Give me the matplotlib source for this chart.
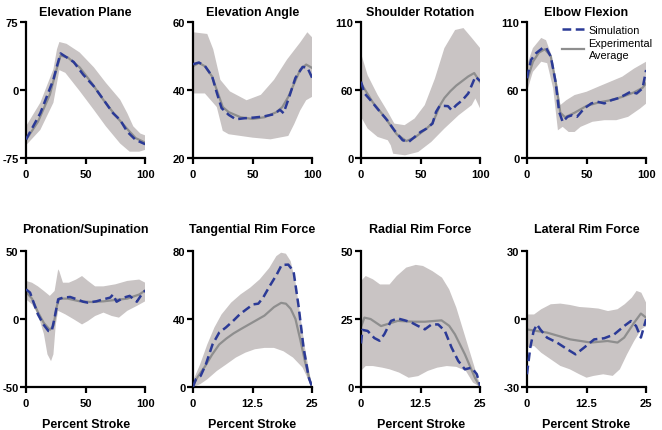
import numpy as np
import matplotlib
matplotlib.use('Agg')
import matplotlib.pyplot as plt

plt.rcParams['font.family'] = ['Liberation Sans', 'DejaVu Sans']
plt.rcParams['font.weight'] = 'bold'

# ---- Elevation Plane ----
ep_sx = [0, 6, 12, 17, 23, 26, 29, 33, 40, 48, 57, 65, 73, 79, 85, 92, 100]
ep_sy = [-54.5, -40, -25.5, -8.7, 11.7, 26.6, 40.4, 37, 31, 17, 4, -10.6, -25.5, -33, -46, -55, -59.7]
ep_mx = [0, 10, 20, 25, 29, 35, 45, 55, 65, 75, 85, 92, 100]
ep_my = [-55, -35, -5, 20, 38, 36, 25, 8, -11, -28, -43, -53, -58]
ep_ux = [0, 12, 23, 26, 28, 34, 45, 57, 67, 79, 85, 90, 96, 100]
ep_uy = [-40, -14, 23, 45, 53, 51, 41.5, 25, 8, -10.6, -25.5, -40, -48, -50]
ep_lx = [0, 12, 23, 28, 33, 45, 57, 67, 79, 87, 95, 100]
ep_ly = [-61, -44, -14, 22, 19, -1, -22, -40, -59, -68, -68, -66]

# ---- Elevation Angle ----
ea_sx = [0, 5, 10, 16, 20, 24, 30, 36, 43, 51, 59, 68, 73, 76, 80, 86, 92, 96, 100]
ea_sy = [47.6, 48.1, 47.1, 44.1, 39.2, 34.7, 32.7, 31.4, 31.7, 31.9, 32.2, 32.9, 34.2, 33.2, 37.2, 43.6, 46.8, 46.6, 43.6]
ea_mx = [0, 5, 10, 16, 20, 25, 30, 40, 50, 60, 70, 75, 80, 85, 90, 95, 100]
ea_my = [47, 48, 47, 44, 40, 35, 33.5, 32, 31.5, 32, 33.5, 35, 38, 42, 46, 47.5, 46.5]
ea_ux = [0, 12, 17, 23, 31, 45, 57, 68, 79, 90, 96, 100]
ea_uy = [57, 56.5, 52, 43, 39.6, 37, 38.6, 43, 49, 54, 57, 55.5]
ea_lx = [0, 10, 20, 25, 30, 50, 65, 80, 85, 90, 95, 100]
ea_ly = [39, 39, 35, 28, 27, 26, 25.5, 26.5, 30, 34, 37, 38]

# ---- Shoulder Rotation ----
sr_sx = [0, 3, 8, 15, 22, 28, 35, 40, 45, 50, 55, 60, 63, 66, 70, 73, 76, 80, 85, 90, 93, 96, 100]
sr_sy = [67.4, 57, 51, 42, 33.4, 24.5, 15.7, 14.2, 18.6, 23, 26, 30.4, 40.8, 46, 46, 45.8, 42.3, 46.7, 51, 57, 64.4, 71.8, 68]
sr_mx = [0, 10, 20, 30, 38, 45, 55, 60, 63, 66, 70, 75, 80, 85, 90, 95, 100]
sr_my = [66, 49, 36, 21, 15, 18, 26, 31, 38, 46, 53, 59, 64, 68, 72, 75, 67]
sr_ux = [0, 5.6, 14, 22.5, 28, 36.6, 45, 53.5, 62, 70, 79, 86, 93, 100]
sr_uy = [92.5, 73, 55.6, 40.8, 30.4, 29, 34.9, 46.7, 70, 97, 113, 114.7, 106, 97]
sr_lx = [0, 5.6, 14, 22.5, 25, 27, 37, 48, 59, 70, 82, 93, 96, 100]
sr_ly = [36.4, 26, 18.6, 15.7, 11.2, 3.8, 2.4, 5.3, 14.2, 26, 37.8, 46.7, 52.6, 43.7]

# ---- Elbow Flexion ----
ef_sx = [0, 3.4, 7.6, 13, 16, 20, 24, 27, 30, 34, 38, 42, 48, 54, 59, 65, 71, 76, 82, 87, 92, 97, 100]
ef_sy = [70.4, 86.6, 92.5, 97, 97.5, 89.6, 67.4, 40.8, 31.9, 36.4, 37.8, 36.4, 43.7, 48.2, 49.7, 48.2, 51.1, 52.6, 55.6, 58.5, 57, 61.5, 77.7]
ef_mx = [0, 5, 10, 15, 20, 25, 28, 32, 40, 50, 60, 70, 80, 90, 97, 100]
ef_my = [68, 85, 93, 96, 90, 62, 40, 36, 40, 46, 49, 51, 54, 58, 62, 66]
ef_ux = [0, 5, 12, 16, 20, 24, 28, 33, 40, 50, 60, 70, 80, 90, 100]
ef_uy = [82, 97, 106, 104, 92.5, 70, 46.7, 51, 55.6, 58.5, 63, 67.4, 71.8, 79, 85]
ef_lx = [0, 5, 12, 17, 22, 26, 30, 35, 40, 45, 55, 65, 75, 85, 95, 100]
ef_ly = [58.5, 76, 85, 83.7, 61.5, 24.5, 27.5, 23, 23, 27.5, 32, 33.4, 33.4, 36.4, 43.7, 48]

# ---- Pronation/Supination ----
ps_sx = [0, 3.4, 6, 10, 14.6, 18.8, 21.6, 24, 27, 31, 37, 42.6, 48, 52, 59, 65, 70.6, 73, 76, 82, 87, 93, 97, 100]
ps_sy = [21.8, 19.4, 13, 3.4, -4, -8.8, -8.8, 1, 14.5, 15.7, 16.2, 14.5, 12.7, 12, 13, 14.5, 15.7, 18, 12.7, 15.7, 17, 12.7, 18, 21]
ps_mx = [0, 5, 10, 15, 20, 23, 26, 28, 35, 45, 55, 65, 75, 85, 95, 100]
ps_my = [20, 15, 5, -3, -8, -5, 10, 15, 15, 13, 12.5, 13, 14, 15, 18, 21]
ps_ux = [0, 5, 10, 15, 20, 24, 27, 28, 31, 36, 42, 47, 52, 58, 65, 75, 85, 95, 100]
ps_uy = [28, 26.7, 24, 20.6, 17, 20.6, 36.5, 35, 26.7, 26.7, 29, 31.6, 28, 24, 24, 25.5, 28, 29, 26.7]
ps_lx = [0, 5, 10, 15, 18, 21, 23, 25, 27, 33, 40, 47, 52, 58, 65, 72, 78, 85, 93, 100]
ps_ly = [14.5, 10.8, 3.4, -11, -26, -31, -26, -4, 6, 3.4, -0.2, -4, -1.5, 2.2, 4.7, 2.2, 1, 6, 9.6, 13]

# ---- Tangential Rim Force ----
tr_sx = [0, 0.6, 1.6, 2.7, 4.1, 5.5, 6.9, 8.4, 9.8, 11.2, 12.6, 13.7, 14.7, 16.1, 17.6, 18.6, 20, 21.1, 22.2, 23.2, 24.3, 25]
tr_sy = [0, 4.5, 6.5, 13.3, 25, 32, 35, 38.8, 42.7, 45.7, 48.6, 49, 52.5, 59.4, 66.3, 71.8, 72, 68, 46.7, 23, 5.5, 0]
tr_mx = [0, 1, 2.5, 4, 5.5, 7, 8.5, 10, 12.5, 15, 17, 18.5, 19.5, 20.5, 21.5, 22.5, 23.5, 24.5, 25]
tr_my = [1, 6, 12, 19, 25, 28.5, 31.5, 34, 38, 42, 47, 49.5, 49, 46, 40, 28, 15, 4, 0]
tr_ux = [0, 1.5, 3, 4.5, 6, 8, 10, 12, 14, 16, 17.5, 18.5, 19.5, 20.5, 21.5, 22.5, 23.5, 24.5, 25]
tr_uy = [3.5, 13.3, 25, 35, 42.7, 49.6, 54.5, 58.4, 63.3, 70, 77, 79, 78.4, 74, 62, 42.7, 23, 7.5, 0.6]
tr_lx = [0, 1.5, 3, 5, 7, 9, 11, 13, 15, 17, 19, 21, 23, 24.5, 25]
tr_ly = [0, 1.6, 4.5, 9.4, 13.3, 17.3, 20.2, 22.2, 23, 23, 21, 17.3, 11.4, 2.5, 0]

# ---- Radial Rim Force ----
rr_sx = [0, 0.3, 1.4, 2.8, 3.9, 4.9, 6.3, 7.7, 9.2, 10.6, 12, 13.4, 14.8, 16.2, 17.6, 19, 20.4, 21.8, 23.2, 24.3, 25]
rr_sy = [16, 21, 20.6, 18, 17, 19.4, 24.3, 25.2, 24.5, 23.7, 22.4, 21.2, 23, 23, 20.6, 14.5, 9.6, 6.5, 7.1, 4.7, 0.4]
rr_mx = [0, 0.7, 2, 4.2, 7.7, 11, 13.4, 16.9, 18.5, 19.7, 21.8, 23.9, 25]
rr_my = [22, 25.5, 25, 22.4, 24.3, 24, 24, 24.5, 22.5, 19.4, 12, 3.4, 0]
rr_ux = [0, 1, 2.5, 4, 6, 7.5, 9.5, 11.5, 13, 15, 17, 18.5, 20, 21.5, 23, 24.5, 25]
rr_uy = [39, 40.8, 39.6, 37.7, 37.7, 40.8, 43.9, 44.9, 44.5, 42.6, 40.2, 35.9, 29.2, 20.6, 12, 3.4, 1]
rr_lx = [0, 1, 2.5, 4.5, 6, 8, 10, 12, 14, 16, 18, 20, 22, 23.5, 25]
rr_ly = [5.9, 7.7, 7.7, 7.1, 6.5, 5.3, 3.4, 4, 5.9, 7.1, 7.7, 7.4, 5.9, 1.6, 0]

# ---- Lateral Rim Force ----
lr_sx = [0, 0.7, 1.4, 2.1, 2.8, 4.2, 6.3, 8.5, 10.2, 12, 14.1, 16.2, 18.3, 20.4, 21.8, 22.9, 23.9, 25]
lr_sy = [-24.4, -12.6, -5.3, -2.4, -4.6, -8.2, -10.4, -13.4, -15.6, -12.6, -9, -8.5, -6.8, -3.1, -0.9, -3.1, -8.2, -0.1]
lr_mx = [0, 4.2, 9.1, 13.4, 16.9, 19, 20.4, 22.5, 23.9, 25]
lr_my = [-4.6, -6, -9, -10.4, -9.7, -10.4, -8.2, -1.6, 2.4, 0.6]
lr_ux = [0, 1.5, 3, 5, 7, 9, 11, 13, 15, 17, 19, 20.5, 22, 23, 24, 25]
lr_uy = [2, 2, 4.3, 6.5, 6.8, 6.2, 5.3, 5, 4.6, 3.5, 4.3, 6.5, 9.4, 12.4, 11.6, 7.2]
lr_lx = [0, 1.5, 3, 5, 7, 9, 11, 12.5, 14, 16, 18, 19.5, 21, 22.5, 24, 25]
lr_ly = [-12.6, -11.9, -14.9, -17.8, -20.7, -22.2, -24.4, -25.9, -25.1, -24.4, -25.1, -22.2, -15.6, -9.7, -4.6, -3.1]

titles = ['Elevation Plane', 'Elevation Angle', 'Shoulder Rotation', 'Elbow Flexion',
          'Pronation/Supination', 'Tangential Rim Force', 'Radial Rim Force', 'Lateral Rim Force']
ylims = [(-75, 75), (20, 60), (0, 120), (0, 120), (-50, 50), (0, 80), (0, 50), (-30, 30)]
ytick_labels = [['-75', '0', '75'], ['20', '40', '60'], ['0', '60', '110'], ['0', '60', '110'],
                ['-50', '0', '50'], ['0', '40', '80'], ['0', '25', '50'], ['-30', '0', '30']]
angle_xticks = [0, 50, 100]
force_xticks = [0, 12.5, 25]
angle_xlabels = ['0', '50', '100']
force_xlabels = ['0', '12.5', '25']

panels = [
    (ep_sx, ep_sy, ep_mx, ep_my, ep_ux, ep_uy, ep_lx, ep_ly),
    (ea_sx, ea_sy, ea_mx, ea_my, ea_ux, ea_uy, ea_lx, ea_ly),
    (sr_sx, sr_sy, sr_mx, sr_my, sr_ux, sr_uy, sr_lx, sr_ly),
    (ef_sx, ef_sy, ef_mx, ef_my, ef_ux, ef_uy, ef_lx, ef_ly),
    (ps_sx, ps_sy, ps_mx, ps_my, ps_ux, ps_uy, ps_lx, ps_ly),
    (tr_sx, tr_sy, tr_mx, tr_my, tr_ux, tr_uy, tr_lx, tr_ly),
    (rr_sx, rr_sy, rr_mx, rr_my, rr_ux, rr_uy, rr_lx, rr_ly),
    (lr_sx, lr_sy, lr_mx, lr_my, lr_ux, lr_uy, lr_lx, lr_ly),
]

band_c = '#c9c4c4'
mean_c = '#8e8e8e'
sim_c = '#2b3a96'

fig = plt.figure(figsize=(6.62, 4.31), dpi=100)
lefts = [0.0393, 0.2915, 0.5453, 0.796]
bottoms = [0.631, 0.0998]
w, h = 0.18, 0.3155

for i, (sx, sy, mx, my, ux, uy, lx, ly) in enumerate(panels):
    ax = fig.add_axes([lefts[i % 4], bottoms[i // 4], w, h])
    ax.fill(np.r_[ux, lx[::-1]], np.r_[uy, ly[::-1]], color=band_c, lw=0, zorder=1)
    ml, = ax.plot(mx, my, color=mean_c, lw=1.6, zorder=2)
    sl, = ax.plot(sx, sy, color=sim_c, lw=1.8, ls=(0, (3.5, 1.8)), zorder=3)
    lo, hi = ylims[i]
    ax.set_ylim(lo, hi)
    ax.set_yticks([lo, (lo + hi) / 2, hi])
    ax.set_yticklabels(ytick_labels[i])
    if i in (5, 6, 7):
        ax.set_xlim(0, 25)
        ax.set_xticks(force_xticks)
        ax.set_xticklabels(force_xlabels)
    else:
        ax.set_xlim(0, 100)
        ax.set_xticks(angle_xticks)
        ax.set_xticklabels(angle_xlabels)
    for s in ['top', 'right']:
        ax.spines[s].set_visible(False)
    for s in ['left', 'bottom']:
        ax.spines[s].set_linewidth(1.6)
    ax.tick_params(direction='out', length=4, width=1.6, labelsize=8, pad=1.5)
    ax.tick_params(axis='x', pad=4)
    for lab in ax.get_xticklabels() + ax.get_yticklabels():
        lab.set_fontweight('bold')
    # bottom-row titles sit higher above their axes
    ax.set_title(titles[i], fontsize=9, fontweight='bold', pad=5 if i < 4 else 14)
    if i >= 4:
        ax.set_xlabel('Percent Stroke', fontsize=9, fontweight='bold', labelpad=7)
    if i == 3:
        ax.legend([sl, ml], ['Simulation', 'Experimental\nAverage'], loc='upper left',
                  bbox_to_anchor=(0.29, 0.98), frameon=False,
                  prop={'weight': 'normal', 'size': 7.8}, handlelength=2.1,
                  handletextpad=0.4, labelspacing=0.3, borderpad=0, borderaxespad=0)

fig.savefig('out.png', dpi=100)
